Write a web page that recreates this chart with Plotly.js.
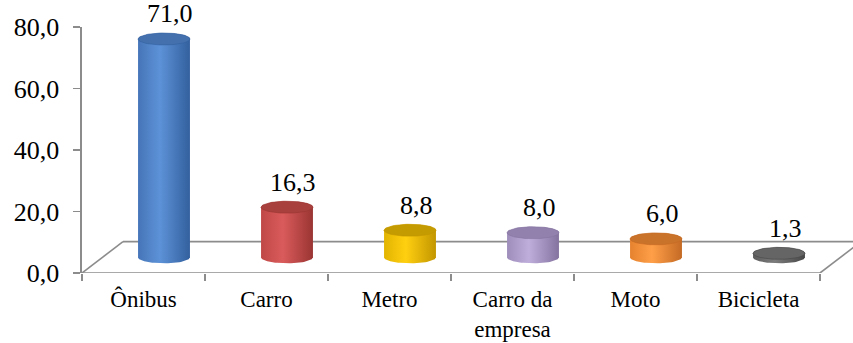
<!DOCTYPE html>
<html>
<head>
<meta charset="utf-8">
<script src="https://cdn.plot.ly/plotly-3.0.1.min.js"></script>
<style>
  html, body { margin: 0; padding: 0; background: #ffffff; }
  #chart { width: 853px; height: 343px; }
</style>
</head>
<body>
<div id="chart"></div>
<script>
// Transport modes and their shares (%)
const categories = ['Ônibus', 'Carro', 'Metro', 'Carro da<br>empresa', 'Moto', 'Bicicleta'];
const values = [71.0, 16.3, 8.8, 8.0, 6.0, 1.3];
const yTicks = [0, 20, 40, 60, 80];

// Cylinder shading per bar: side edge, lit centre, shaded edge, top cap
const bodyLeft   = ['#4675b8', '#bf4846', '#e2b400', '#9e8dbb', '#e5822f', '#5c5c5c'];
const bodyLight  = ['#5d92d8', '#da5b5b', '#ffcf10', '#bfaedc', '#ff9f48', '#7c7c7c'];
const bodyRight  = ['#33609e', '#9a3533', '#c39600', '#84739f', '#c46a24', '#474747'];
const capColors  = ['#4470ae', '#a8413e', '#c49b00', '#9281ad', '#c97229', '#656565'];

// Pseudo-3D geometry (in axis units)
const depthX = 1 / 3;      // floor depth, horizontal
const depthY = 10.2;       // floor depth, vertical
const radius = 0.211;      // cylinder half width
const capH = 1.95;         // ellipse half height
const baseY = depthY / 2;  // cylinders stand mid-depth
const labelShift = 25;     // value label distance above the cylinder top, px

const axisGray = '#8c8c8c';
const serif = 'Liberation Serif';

function ellipseArc(cx, cy, a0, a1, n) {
  const xs = [], ys = [];
  for (let k = 0; k <= n; k++) {
    const t = a0 + (a1 - a0) * k / n;
    xs.push(cx + radius * Math.cos(t));
    ys.push(cy + capH * Math.sin(t));
  }
  return [xs, ys];
}

// empty trace keeps the boundary tick axis drawn
const traces = [{ type: 'scatter', x: [], y: [], xaxis: 'x2', yaxis: 'y', showlegend: false, hoverinfo: 'skip' }];

values.forEach((v, i) => {
  const cx = i + depthX / 2;
  const top = baseY + v;
  // body: front half of the base ellipse, sides, back half of the top ellipse
  const [bx, by] = ellipseArc(cx, baseY, Math.PI, 2 * Math.PI, 40);
  const [tx, ty] = ellipseArc(cx, top, 0, Math.PI, 40);
  traces.push({
    type: 'scatter', mode: 'lines',
    x: bx.concat(tx, [bx[0]]), y: by.concat(ty, [by[0]]),
    fill: 'toself', line: { width: 0, color: 'rgba(0,0,0,0)' },
    fillcolor: bodyLight[i],
    fillgradient: {
      type: 'horizontal',
      colorscale: [[0, bodyLeft[i]], [0.42, bodyLight[i]], [1, bodyRight[i]]]
    },
    hoverinfo: 'skip', showlegend: false
  });
  // top cap
  const [cxs, cys] = ellipseArc(cx, top, 0, 2 * Math.PI, 80);
  traces.push({
    type: 'scatter', mode: 'lines', x: cxs, y: cys,
    fill: 'toself', fillcolor: capColors[i],
    line: { width: 0.6, color: bodyRight[i] },
    hoverinfo: 'skip', showlegend: false
  });
});

// value labels above the cylinders
const annotations = values.map((v, i) => ({
  xref: 'x', yref: 'y',
  x: i + depthX / 2 + 0.05,
  y: baseY + v,
  yshift: labelShift,
  text: v.toFixed(1).replace('.', ','),
  showarrow: false, xanchor: 'center', yanchor: 'middle',
  font: { family: serif, size: 26, color: '#000000' }
}));

// floor outline
const last = categories.length - 0.5;
const floorLines = [
  [-0.5, 0, last, 0],
  [-0.5, 0, -0.5 + depthX, depthY],
  [-0.5 + depthX, depthY, last + depthX, depthY],
  [last, 0, last + depthX, depthY]
];
const shapes = floorLines.map(([x0, y0, x1, y1]) => ({
  type: 'line', xref: 'x', yref: 'y', x0, y0, x1, y1, layer: 'below',
  line: { color: axisGray, width: 1.6 }
}));

const xRange = [-0.5, -0.5 + 771 / 123];

const layout = {
  width: 853, height: 343,
  margin: { l: 82, r: 0, t: 27, b: 70 },
  paper_bgcolor: '#ffffff', plot_bgcolor: '#ffffff',
  separators: ',.',
  showlegend: false,
  hovermode: false,
  shapes,
  annotations,
  xaxis: {
    range: xRange, fixedrange: true,
    tickmode: 'array',
    tickvals: categories.map((c, i) => i),
    ticktext: categories,
    ticks: '', showline: false, showgrid: false, zeroline: false,
    ticklabelstandoff: 10,
    tickfont: { family: serif, size: 23, color: '#000000' }
  },
  xaxis2: {
    overlaying: 'x', anchor: 'y', side: 'bottom',
    range: xRange, fixedrange: true,
    tickmode: 'array',
    tickvals: categories.map((c, i) => i - 0.5).concat([last]),
    showticklabels: false,
    ticks: 'outside', ticklen: 7, tickwidth: 1.6, tickcolor: axisGray,
    showline: false, showgrid: false, zeroline: false
  },
  yaxis: {
    range: [0, 80], fixedrange: true,
    tickmode: 'array', tickvals: yTicks,
    tickformat: '.1f',
    showline: true, linecolor: axisGray, linewidth: 1.6,
    ticks: 'outside', ticklen: 7, tickwidth: 1.6, tickcolor: axisGray,
    ticklabelstandoff: 9,
    showgrid: false, zeroline: false,
    tickfont: { family: serif, size: 26, color: '#000000' }
  }
};

Plotly.newPlot('chart', traces, layout, { displayModeBar: false, staticPlot: true });
</script>
</body>
</html>
